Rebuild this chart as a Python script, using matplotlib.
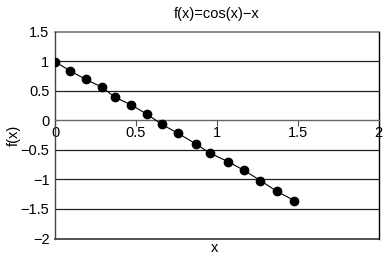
import matplotlib
matplotlib.use("Agg")
import matplotlib.pyplot as plt

plt.rcParams['font.family'] = ['Liberation Sans', 'DejaVu Sans']

# points
x_vals = [0.0, 0.09, 0.19, 0.29, 0.37, 0.47, 0.57, 0.66, 0.76, 0.87, 0.96, 1.07, 1.17, 1.27, 1.37, 1.48]
y_vals = [0.99, 0.84, 0.69, 0.56, 0.39, 0.26, 0.10, -0.07, -0.22, -0.40, -0.56, -0.70, -0.85, -1.02, -1.20, -1.36]
x_ticks = [0, 0.5, 1, 1.5, 2]
x_tick_labels = ["0", "0.5", "1", "1.5", "2"]
y_ticks = [-2, -1.5, -1, -0.5, 0, 0.5, 1, 1.5]
y_tick_labels = ["\u22122", "\u22121.5", "\u22121", "\u22120.5", "0", "0.5", "1", "1.5"]

fig = plt.figure(figsize=(3.85, 2.61), dpi=100)
ax = fig.add_axes([55 / 385, 1 - 238.5 / 261, 323.5 / 385, 207 / 261])

ax.plot(x_vals, y_vals, color='black', lw=0.8, marker='o', markersize=6, zorder=3)

ax.set_xlim(0, 2)
ax.set_ylim(-2, 1.5)

# horizontal grid lines
for yv in [-1.5, -1, -0.5, 0.5, 1]:
    ax.axhline(yv, color='#222222', lw=0.9, zorder=1)
ax.axhline(1.5, color='#777777', lw=1.2, zorder=1, clip_on=False)
ax.axhline(-2, color='#333333', lw=1.2, zorder=1, clip_on=False)

ax.spines['top'].set_visible(False)
ax.spines['bottom'].set_position(('data', 0))
ax.spines['bottom'].set_color('#666666')
ax.spines['bottom'].set_linewidth(1.0)
ax.spines['left'].set_color('#444444')
ax.spines['left'].set_linewidth(1.0)
ax.spines['right'].set_color('black')
ax.spines['right'].set_linewidth(1.0)

ax.set_xticks(x_ticks)
ax.set_xticklabels(x_tick_labels, fontsize=10.5)
ax.tick_params(axis='x', direction='out', length=4, width=0.8, color='#555555', pad=0)
ax.set_yticks(y_ticks)
ax.set_yticklabels(y_tick_labels, fontsize=10.5)
ax.tick_params(axis='y', length=0, pad=4)

ax.set_title("f(x)=cos(x)\u2212x", fontsize=10.5, pad=10)
ax.set_ylabel("f(x)", fontsize=10.5, labelpad=0)
fig.text(215 / 385, 1 - 248 / 261, "x", fontsize=10.5, ha='center', va='center')

fig.savefig("out.png", dpi=100)
